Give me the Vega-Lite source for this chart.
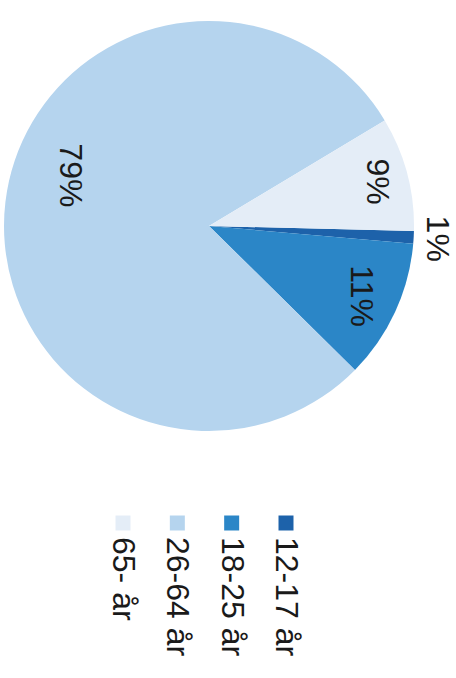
{
  "$schema": "https://vega.github.io/schema/vega-lite/v6.json",
  "padding": {"left": 1, "top": 18, "right": 0, "bottom": 0},
  "background": "#ffffff",
  "spacing": 69,
  "bounds": "flush",
  "data": {
    "values": [
      {"group": "12-17 år", "pct": 0.01},
      {"group": "18-25 år", "pct": 0.11},
      {"group": "26-64 år", "pct": 0.79},
      {"group": "65- år", "pct": 0.09}
    ]
  },
  "config": {
    "view": {"stroke": null},
    "text": {"font": "Liberation Sans", "fontSize": 32, "color": "#1a1a1a"}
  },
  "vconcat": [
    {
      "width": 416,
      "height": 416,
      "encoding": {
        "theta": {"field": "pct", "type": "quantitative", "stack": true, "scale": {"range": [1.5952, 7.8784]}},
        "order": {"field": "group", "type": "nominal", "sort": "ascending"}
      },
      "layer": [
        {
          "mark": {"type": "arc", "outerRadius": 205},
          "encoding": {
            "color": {
              "field": "group",
              "type": "nominal",
              "legend": null,
              "scale": {
                "domain": ["12-17 år", "18-25 år", "26-64 år", "65- år"],
                "range": ["#1d62aa", "#2b86c7", "#b5d4ee", "#e4edf7"]
              }
            }
          }
        },
        {
          "mark": {"type": "text", "angle": 90, "align": "center", "baseline": "middle"},
          "encoding": {
            "detail": {"field": "group", "type": "nominal"},
            "radius": {"field": "pct", "type": "quantitative", "scale": {"type": "linear", "zero": false, "clamp": true, "domain": [0.01, 0.1], "range": [228, 167]}},
            "text": {"condition": {"test": "datum.pct < 0.5", "field": "pct", "type": "quantitative", "format": ".0%"}, "value": ""}
          }
        },
        {
          "mark": {"type": "text", "radius": 149, "angle": 90, "align": "center", "baseline": "middle", "dx": -33, "dy": -9},
          "encoding": {
            "detail": {"field": "group", "type": "nominal"},
            "text": {"condition": {"test": "datum.pct > 0.5", "field": "pct", "type": "quantitative", "format": ".0%"}, "value": ""}
          }
        }
      ]
    },
    {
      "width": 416,
      "height": 40,
      "encoding": {
        "x": {
          "field": "group",
          "type": "nominal",
          "axis": null,
          "scale": {"type": "point", "padding": 0, "domain": ["65- år", "26-64 år", "18-25 år", "12-17 år"], "range": [122, 285]}
        }
      },
      "layer": [
        {
          "mark": {"type": "square", "size": 225, "filled": true, "opacity": 1},
          "encoding": {
            "color": {
              "field": "group",
              "type": "nominal",
              "legend": null,
              "scale": {
                "domain": ["12-17 år", "18-25 år", "26-64 år", "65- år"],
                "range": ["#1d62aa", "#2b86c7", "#b5d4ee", "#e4edf7"]
              }
            }
          }
        },
        {
          "mark": {"type": "text", "angle": 90, "align": "left", "baseline": "middle", "dx": 14},
          "encoding": {
            "text": {"field": "group", "type": "nominal"}
          }
        }
      ]
    }
  ]
}
